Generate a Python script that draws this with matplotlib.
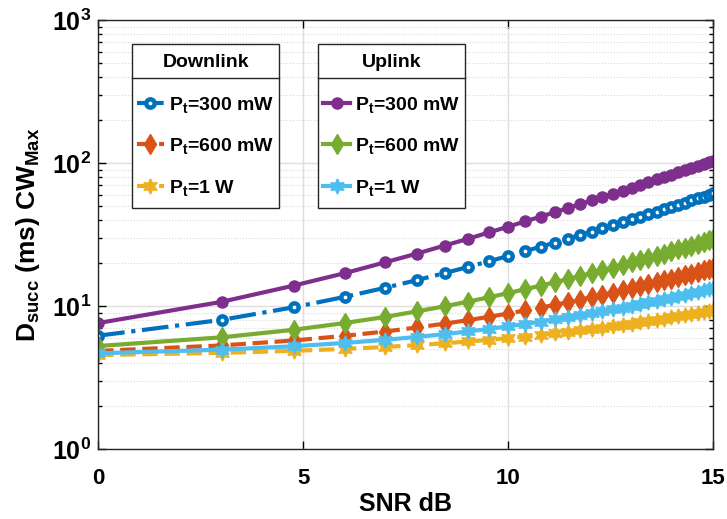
import math
import matplotlib
matplotlib.use("Agg")
import matplotlib.pyplot as plt
from matplotlib.ticker import FixedLocator, FuncFormatter, LogLocator, NullFormatter
from matplotlib.lines import Line2D
from matplotlib.patches import Rectangle

plt.rcParams['font.family'] = ['Liberation Sans', 'DejaVu Sans']
plt.rcParams['font.weight'] = 'bold'
plt.rcParams['mathtext.fontset'] = 'custom'
plt.rcParams['mathtext.rm'] = 'Liberation Sans:bold'
plt.rcParams['mathtext.bf'] = 'Liberation Sans:bold'
plt.rcParams['mathtext.it'] = 'Liberation Sans:bold'

# SNR in dB
snr_db = [0, 3.01, 4.77, 6.02, 6.99, 7.78, 8.45, 9.03, 9.54, 10.0, 10.41, 10.79,
          11.14, 11.46, 11.76, 12.04, 12.30, 12.55, 12.79, 13.01, 13.22, 13.42,
          13.62, 13.80, 13.98, 14.15, 14.31, 14.47, 14.62, 14.77, 14.91, 15.0]

# downlink
dl_300mw = [6.2, 8.0, 9.8, 11.6, 13.4, 15.2, 17.0, 18.8, 20.6, 22.4, 24.2, 26.0,
            27.8, 29.6, 31.4, 33.2, 35.0, 36.8, 38.6, 40.4, 42.2, 44.0, 45.8,
            47.6, 49.4, 51.2, 53.0, 54.8, 56.6, 58.4, 60.2, 61.4]
dl_600mw = [4.85, 5.30, 5.74, 6.19, 6.63, 7.08, 7.53, 7.97, 8.42, 8.86, 9.31, 9.76,
            10.20, 10.65, 11.09, 11.54, 11.99, 12.43, 12.88, 13.32, 13.77, 14.22,
            14.66, 15.11, 15.55, 16.00, 16.45, 16.89, 17.34, 17.78, 18.23, 18.5]
dl_1w = [4.54, 4.70, 4.86, 5.01, 5.17, 5.33, 5.49, 5.65, 5.80, 5.96, 6.12, 6.28,
         6.44, 6.59, 6.75, 6.91, 7.07, 7.23, 7.38, 7.54, 7.70, 7.86, 8.02, 8.17,
         8.33, 8.49, 8.65, 8.81, 8.96, 9.12, 9.28, 9.38]

# uplink
ul_300mw = [7.6, 10.7, 13.9, 17.0, 20.2, 23.3, 26.5, 29.6, 32.8, 35.9, 39.1, 42.2,
            45.4, 48.5, 51.7, 54.8, 58.0, 61.1, 64.3, 67.4, 70.6, 73.7, 76.9,
            80.0, 83.2, 86.3, 89.5, 92.6, 95.8, 98.9, 102.1, 104.0]
ul_600mw = [5.25, 6.04, 6.82, 7.61, 8.39, 9.18, 9.96, 10.75, 11.53, 12.32, 13.10,
            13.89, 14.67, 15.46, 16.24, 17.03, 17.81, 18.60, 19.38, 20.17, 20.95,
            21.74, 22.52, 23.31, 24.09, 24.88, 25.66, 26.45, 27.23, 28.02, 28.80, 29.3]
ul_1w = [4.67, 4.95, 5.23, 5.52, 5.80, 6.08, 6.36, 6.64, 6.93, 7.21, 7.49, 7.77,
         8.05, 8.34, 8.62, 8.90, 9.18, 9.46, 9.75, 10.03, 10.31, 10.59, 10.87,
         11.16, 11.44, 11.72, 12.00, 12.28, 12.57, 12.85, 13.13, 13.3]

labels = [r'P$_\mathbf{t}$=300 mW', r'P$_\mathbf{t}$=600 mW', r'P$_\mathbf{t}$=1 W']

BLUE = '#0072BD'
ORANGE = '#D95319'
YELLOW = '#EDB120'
PURPLE = '#7E2F8E'
GREEN = '#77AC30'
LBLUE = '#4DBEEE'
HEX = (6, 1, 0)

fig = plt.figure(figsize=(7.27, 5.19), dpi=100)
ax = fig.add_axes([0.135, 0.135, 0.846, 0.826])

lw = 3.0
d1, = ax.plot(snr_db, dl_300mw, '-.', color=BLUE, lw=lw, marker='o', ms=6,
              mfc='white', mec=BLUE, mew=3.2)
d2, = ax.plot(snr_db, dl_600mw, '--', color=ORANGE, lw=lw, marker='d', ms=10,
              mfc=ORANGE, mec=ORANGE)
d3, = ax.plot(snr_db, dl_1w, '--', color=YELLOW, lw=lw, marker=HEX, ms=11,
              mfc=YELLOW, mec=YELLOW)
u1, = ax.plot(snr_db, ul_300mw, '-', color=PURPLE, lw=lw, marker='o', ms=8,
              mfc=PURPLE, mec=PURPLE)
u2, = ax.plot(snr_db, ul_600mw, '-', color=GREEN, lw=lw, marker='d', ms=10,
              mfc=GREEN, mec=GREEN)
u3, = ax.plot(snr_db, ul_1w, '-', color=LBLUE, lw=lw, marker=HEX, ms=11,
              mfc=LBLUE, mec=LBLUE)

ax.set_yscale('log')
ax.set_xlim(0, 15)
ax.set_ylim(1, 1000)
ax.xaxis.set_major_locator(FixedLocator([0, 5, 10, 15]))
ax.yaxis.set_major_locator(LogLocator(base=10))
ax.yaxis.set_minor_locator(LogLocator(base=10, subs=range(2, 10)))
ax.yaxis.set_minor_formatter(NullFormatter())
ax.yaxis.set_major_formatter(FuncFormatter(lambda v, p: r'$\mathbf{10^{%d}}$' % round(math.log10(v))))

ax.tick_params(which='both', direction='in', top=True, right=True, width=1)
ax.tick_params(axis='x', labelsize=16, pad=14)
ax.tick_params(axis='y', labelsize=18, pad=5)
ax.tick_params(which='major', length=6)
ax.tick_params(which='minor', length=3)
for s in ax.spines.values():
    s.set_linewidth(1)
    s.set_color('#262626')

ax.grid(True, which='major', color='#dedede', lw=1)
ax.grid(True, which='minor', axis='y', color='#d8d8d8', lw=0.8, ls=':')
ax.set_axisbelow(True)

ax.set_xlabel('SNR dB', fontsize=18, fontweight='bold', labelpad=2)
ax.set_ylabel(r'D$_\mathbf{succ}$ (ms) CW$_\mathbf{Max}$', fontsize=19, fontweight='bold', labelpad=7)

leg_kw = dict(fontsize=14, title_fontsize=14, frameon=False,
              handlelength=1.4, handletextpad=0.25,
              labelspacing=1.1, borderpad=0.25, borderaxespad=0, loc='upper left')
leg1 = ax.legend([d1, d2, d3], labels, title='Downlink', bbox_to_anchor=(0.055, 0.932), **leg_kw)
ax.add_artist(leg1)
leg2 = ax.legend([u1, u2, u3], labels, title='Uplink', bbox_to_anchor=(0.358, 0.932), **leg_kw)
for lg in (leg1, leg2):
    lg.get_title().set_fontweight('bold')
    lg._legend_box.sep = 17

# legend boxes with a line under the title
fig.canvas.draw()
for lg in (leg1, leg2):
    bb = lg.get_window_extent()
    tb = lg.get_title().get_window_extent()
    top = bb.y1 + 5
    bottom = bb.y0 - 5
    fig.add_artist(Rectangle((bb.x0, bottom), bb.x1 - bb.x0, top - bottom, transform=None,
                             facecolor='white', edgecolor='#262626', lw=1, zorder=4))
    y = tb.y0 - 7
    fig.add_artist(Line2D([bb.x0, bb.x1], [y, y], transform=None, color='#262626', lw=1, zorder=4.5))
    lg.set_zorder(5)
    lg.remove()
    fig.add_artist(lg)

plt.savefig('out.png', dpi=100)
